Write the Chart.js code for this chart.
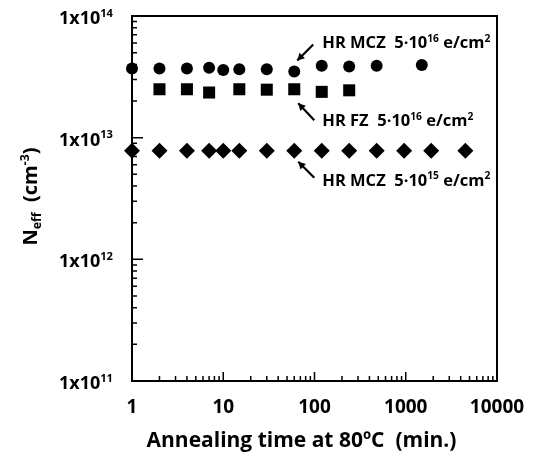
<!DOCTYPE html>
<html>
<head>
<meta charset="utf-8">
<script src="https://cdn.jsdelivr.net/npm/chart.js@4/dist/chart.umd.min.js"></script>
<style>
  body { margin: 0; background: #fff; }
  #wrap { width: 534px; height: 457px; }
</style>
</head>
<body>
<div id="wrap"><canvas id="neff" width="534" height="457"></canvas></div>
<script>
// annealing times (min.) and Neff (cm^-3)
const mczHighTimes = [1, 2, 4, 7, 10, 15, 30, 60, 120, 240, 480, 1500];
const mczHighNeff = [3.7e13, 3.7e13, 3.7e13, 3.75e13, 3.6e13, 3.65e13, 3.65e13, 3.5e13, 3.9e13, 3.85e13, 3.9e13, 3.95e13];

const fzTimes = [2, 4, 7, 15, 30, 60, 120, 240];
const fzNeff = [2.5e13, 2.5e13, 2.35e13, 2.5e13, 2.48e13, 2.5e13, 2.38e13, 2.45e13];

const mczLowTimes = [1, 2, 4, 7, 10, 15, 30, 60, 120, 240, 480, 960, 1900, 4500];
const mczLowNeff = [7.8e12, 7.8e12, 7.8e12, 7.8e12, 7.8e12, 7.8e12, 7.8e12, 7.8e12, 7.8e12, 7.8e12, 7.8e12, 7.8e12, 7.8e12, 7.8e12];

const xTickValues = [1, 10, 100, 1000, 10000];
const yTickExponents = [11, 12, 13, 14];

const FONT = "'Open Sans', sans-serif";

function toPoints(xs, ys) {
  return xs.map((t, i) => ({ x: t, y: ys[i] }));
}

// draws text made of [string, 'sup'|'sub'|null] pieces, returns width
function richText(ctx, parts, x, y, size, measureOnly) {
  let cx = x;
  for (const p of parts) {
    let s = size, dy = 0;
    if (p[1] === 'sup') { s = size * 0.62; dy = -size * 0.4; }
    if (p[1] === 'sub') { s = size * 0.62; dy = size * 0.22; }
    ctx.font = "bold " + s + "px " + FONT;
    if (!measureOnly) ctx.fillText(p[0], cx, y + dy);
    cx += ctx.measureText(p[0]).width;
  }
  return cx - x;
}

// labels next to a chosen point, arrow from the text to the point
const notes = [
  { ds: 0, idx: 7, tip: [3, -11], tail: [19, -27], text: [["HR MCZ  5·10", null], ["16", "sup"], [" e/cm", null], ["2", "sup"]], at: [28, -29] },
  { ds: 1, idx: 5, tip: [4, 14], tail: [20, 31], text: [["HR FZ  5·10", null], ["16", "sup"], [" e/cm", null], ["2", "sup"]], at: [28, 31] },
  { ds: 2, idx: 7, tip: [4, 11], tail: [20, 27], text: [["HR MCZ  5·10", null], ["15", "sup"], [" e/cm", null], ["2", "sup"]], at: [28, 29] }
];

const axesPlugin = {
  id: 'axesPlugin',
  afterDraw(chart) {
    const ctx = chart.ctx;
    const a = chart.chartArea;
    const xs = chart.scales.x, ys = chart.scales.y;
    ctx.save();
    ctx.strokeStyle = '#000';
    ctx.fillStyle = '#000';

    // frame
    ctx.lineWidth = 2;
    ctx.strokeRect(a.left, a.top, a.right - a.left, a.bottom - a.top);

    // inward ticks
    ctx.lineWidth = 1.5;
    ctx.beginPath();
    for (let e = 0; e < 4; e++) {
      for (let m = 1; m <= 9; m++) {
        const v = m * Math.pow(10, e);
        const px = xs.getPixelForValue(v);
        const len = m === 1 ? 9 : 5;
        ctx.moveTo(px, a.bottom);
        ctx.lineTo(px, a.bottom - len);
      }
    }
    for (let e = 11; e < 14; e++) {
      for (let m = 1; m <= 9; m++) {
        const v = m * Math.pow(10, e);
        const py = ys.getPixelForValue(v);
        const len = m === 1 ? 11 : 5;
        ctx.moveTo(a.left, py);
        ctx.lineTo(a.left + len, py);
      }
    }
    const topY = ys.getPixelForValue(1e14);
    ctx.moveTo(a.left, topY);
    ctx.lineTo(a.left + 11, topY);
    ctx.stroke();

    // x tick labels
    ctx.textBaseline = 'alphabetic';
    ctx.textAlign = 'center';
    ctx.font = "bold 19px " + FONT;
    for (const v of xTickValues) {
      ctx.fillText(String(v), xs.getPixelForValue(v), a.bottom + 32);
    }

    // y tick labels 1x10^n
    ctx.textAlign = 'left';
    for (const e of yTickExponents) {
      const parts = [["1x10", null], [String(e), "sup"]];
      const w = richText(ctx, parts, 0, 0, 18, true);
      richText(ctx, parts, a.left - 19 - w, ys.getPixelForValue(Math.pow(10, e)) + 8, 18, false);
    }

    // x title
    ctx.font = "bold 21px " + FONT;
    ctx.textAlign = 'center';
    ctx.fillText("Annealing time at 80ºC  (min.)", (a.left + a.right) / 2 - 13, 447);

    // y title, rotated
    ctx.save();
    ctx.translate(37, (a.top + a.bottom) / 2 - 2);
    ctx.rotate(-Math.PI / 2);
    ctx.textAlign = 'left';
    const yt = [["N", null], ["eff", "sub"], ["  (cm", null], ["-3", "sup"], [")", null]];
    const yw = richText(ctx, yt, 0, 0, 20, true);
    richText(ctx, yt, -yw / 2, 0, 20, false);
    ctx.restore();

    // annotations
    ctx.lineWidth = 2.2;
    ctx.textAlign = 'left';
    for (const n of notes) {
      const pt = chart.getDatasetMeta(n.ds).data[n.idx];
      const tx = pt.x + n.tip[0], ty = pt.y + n.tip[1];
      const sx = pt.x + n.tail[0], sy = pt.y + n.tail[1];
      ctx.beginPath();
      ctx.moveTo(sx, sy);
      ctx.lineTo(tx, ty);
      ctx.stroke();
      const ang = Math.atan2(ty - sy, tx - sx);
      ctx.beginPath();
      ctx.moveTo(tx, ty);
      ctx.lineTo(tx - 8 * Math.cos(ang - 0.5), ty - 8 * Math.sin(ang - 0.5));
      ctx.lineTo(tx - 8 * Math.cos(ang + 0.5), ty - 8 * Math.sin(ang + 0.5));
      ctx.closePath();
      ctx.fill();
      richText(ctx, n.text, pt.x + n.at[0], pt.y + n.at[1] + 6, 16.5, false);
    }
    ctx.restore();
  }
};

new Chart(document.getElementById('neff'), {
  type: 'scatter',
  data: {
    datasets: [
      { label: 'HR MCZ 5e16', data: toPoints(mczHighTimes, mczHighNeff), pointStyle: 'circle', pointRadius: 6, backgroundColor: '#000', borderColor: '#000', borderWidth: 0 },
      { label: 'HR FZ 5e16', data: toPoints(fzTimes, fzNeff), pointStyle: 'rect', pointRadius: 8.5, backgroundColor: '#000', borderColor: '#000', borderWidth: 0 },
      { label: 'HR MCZ 5e15', data: toPoints(mczLowTimes, mczLowNeff), pointStyle: 'rectRot', pointRadius: 8, backgroundColor: '#000', borderColor: '#000', borderWidth: 0 }
    ]
  },
  options: {
    responsive: false,
    animation: false,
    clip: false,
    layout: { padding: { left: 132, top: 16, right: 37, bottom: 76 } },
    plugins: { legend: { display: false }, tooltip: { enabled: false } },
    scales: {
      x: { type: 'logarithmic', min: 1, max: 10000, display: false },
      y: { type: 'logarithmic', min: 1e11, max: 1e14, display: false }
    }
  },
  plugins: [axesPlugin]
});
</script>
</body>
</html>
